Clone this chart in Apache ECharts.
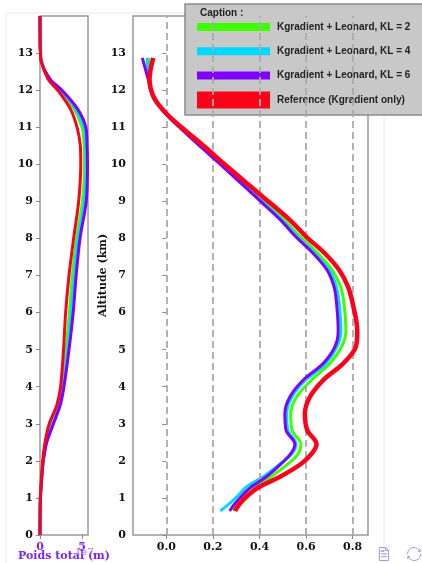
<!DOCTYPE html>
<html>
<head>
<meta charset="utf-8">
<style>
  html, body { margin: 0; padding: 0; background: #fff; }
  #chart { width: 422px; height: 563px; }
</style>
<script src="https://cdn.jsdelivr.net/npm/echarts@6/dist/echarts.min.js"></script>
</head>
<body>
<div id="chart"></div>
<script>
// legend names + colours (KL = 2, 4, 6, reference)
const seriesNames = [
  'Kgradient + Leonard, KL = 2',
  'Kgradient + Leonard, KL = 4',
  'Kgradient + Leonard, KL = 6',
  'Reference (Kgradient only)',
];
const seriesColors = ['#3cff00', '#00d8ff', '#8000ff', '#ff0019'];

// left panel : poids total (x 1e7) against altitude (km)
const altLeft = [0, 0.5, 1, 1.5, 2, 2.5, 3, 3.5, 4, 5, 6, 7, 8, 9, 10, 10.5, 11, 11.5, 12, 12.3, 12.8, 13, 13.2, 14];
const poidsKL2 = [0, 0.01, 0.045, 0.18, 0.36, 0.7, 1.35, 2.2, 2.65, 3.1, 3.5, 3.85, 4.35, 5.05, 5.3, 5.25, 5.0, 4.05, 2.35, 1.08, 0.12, 0.06, 0.02, 0];
const poidsKL4 = [0, 0.01, 0.048, 0.19, 0.38, 0.75, 1.5, 2.3, 2.75, 3.3, 3.75, 4.1, 4.55, 5.3, 5.5, 5.45, 5.25, 4.25, 2.48, 1.15, 0.12, 0.06, 0.02, 0];
const poidsKL6 = [0, 0.01, 0.05, 0.2, 0.4, 0.8, 1.6, 2.4, 2.85, 3.45, 3.95, 4.3, 4.76, 5.5, 5.65, 5.6, 5.45, 4.45, 2.6, 1.2, 0.12, 0.06, 0.02, 0];
const poidsRef = [0, 0.01, 0.04, 0.16, 0.32, 0.6, 1.1, 2.0, 2.45, 2.8, 3.05, 3.45, 4.0, 4.6, 4.85, 4.8, 4.4, 3.6, 2.1, 0.95, 0.12, 0.06, 0.02, 0];

// right panel : profile against altitude (km)
const altRight = [12.87, 12.3, 11.8, 11.37, 11.0, 10.5, 10.0, 9.2, 8.5, 8.05, 7.6, 7.15, 6.7, 6.25, 5.5, 5.08, 4.63, 4.18, 3.73, 3.28, 2.83, 2.45, 2.2, 1.93, 1.57, 1.30, 1.08, 0.85, 0.65];
const profKL2 = [-0.075, -0.074, -0.054, -0.002, 0.062, 0.152, 0.243, 0.385, 0.505, 0.575, 0.65, 0.712, 0.748, 0.763, 0.771, 0.753, 0.703, 0.624, 0.56, 0.534, 0.54, 0.578, 0.567, 0.525, 0.45, 0.388, 0.345, 0.31, 0.288];
const profKL4 = [-0.082, -0.075, -0.055, -0.003, 0.058, 0.145, 0.237, 0.375, 0.495, 0.562, 0.636, 0.698, 0.73, 0.742, 0.75, 0.733, 0.685, 0.598, 0.54, 0.517, 0.522, 0.557, 0.54, 0.49, 0.415, 0.345, 0.31, 0.272, 0.232];
const profKL6 = [-0.103, -0.078, -0.056, -0.004, 0.056, 0.142, 0.232, 0.37, 0.49, 0.555, 0.63, 0.69, 0.72, 0.731, 0.738, 0.724, 0.674, 0.588, 0.531, 0.509, 0.514, 0.552, 0.535, 0.495, 0.43, 0.366, 0.328, 0.295, 0.272];
const profRef = [-0.056, -0.072, -0.053, 0.0, 0.065, 0.16, 0.25, 0.40, 0.53, 0.6, 0.68, 0.742, 0.78, 0.80, 0.82, 0.814, 0.76, 0.674, 0.617, 0.595, 0.605, 0.645, 0.625, 0.581, 0.488, 0.40, 0.352, 0.316, 0.295];

// ticks
const altTicks = [0, 1, 2, 3, 4, 5, 6, 7, 8, 9, 10, 11, 12, 13];
const poidsTicks = [0, 5];
const profTicks = [0, 0.2, 0.4, 0.6, 0.8];

const SERIF = '"DejaVu Serif", serif';
const SANS = '"Liberation Sans", Arial, sans-serif';
const PURPLE_TXT = '#7d22ff';

const pairs = (xs, ys) => xs.map((x, i) => [x, ys[i]]);

const leftVals = [poidsKL2, poidsKL4, poidsKL6, poidsRef];
const rightVals = [profKL2, profKL4, profKL6, profRef];

// thin swatch for KL curves, thick one for the reference (zero-area corners keep the box size)
const THIN_ICON = 'path://M0,0L0.01,0Z M73,17L72.99,17Z M0,4.5L73,4.5L73,12.5L0,12.5Z';
const THICK_ICON = 'path://M0,0L73,0L73,17L0,17Z';

const chart = echarts.init(document.getElementById('chart'), null, { renderer: 'canvas' });

const axisLblY = { color: '#111', fontFamily: SERIF, fontWeight: 'bold', fontSize: 11, margin: 7 };

chart.setOption({
  animation: false,
  backgroundColor: '#fff',
  grid: [
    { left: 40, top: 16, width: 48, height: 519, outerBoundsMode: 'none', show: true, borderColor: '#999', borderWidth: 1.5, backgroundColor: 'transparent' },
    { left: 133, top: 16, width: 235, height: 519, outerBoundsMode: 'none', show: true, borderColor: '#999', borderWidth: 1.5, backgroundColor: 'transparent' },
  ],
  legend: {
    orient: 'vertical',
    left: 185,
    top: 4,
    padding: [14.5, 14, 6.5, 12],
    itemGap: 7.3,
    itemWidth: 73,
    itemHeight: 17,
    backgroundColor: '#c8c8c8',
    borderColor: '#8a8a8a',
    borderWidth: 1.5,
    textStyle: { color: '#222', fontFamily: SANS, fontWeight: 'bold', fontSize: 10, padding: [0, 0, 0, 2] },
    data: seriesNames.map((n, i) => ({ name: n, icon: i === 3 ? THICK_ICON : THIN_ICON })),
  },
  xAxis: [
    {
      gridIndex: 0, type: 'value', min: 0, max: 5.71,
      name: 'Poids total (m)', nameLocation: 'middle', nameGap: 16, nameMoveOverlap: false,
      nameTextStyle: { color: PURPLE_TXT, fontFamily: SERIF, fontWeight: 'bold', fontSize: 11 },
      axisLine: { show: false },
      axisTick: { show: true, length: 4, customValues: poidsTicks, lineStyle: { color: '#888' } },
      axisLabel: { customValues: poidsTicks, color: PURPLE_TXT, fontFamily: SERIF, fontWeight: 'bold', fontSize: 11, margin: 7 },
      splitLine: { show: false },
    },
    {
      gridIndex: 1, type: 'value', min: -0.143, max: 0.866,
      axisLine: { show: false },
      axisTick: { show: true, length: 4, customValues: profTicks, lineStyle: { color: '#888' } },
      axisLabel: { customValues: profTicks, formatter: (v) => v.toFixed(1), color: '#111', fontFamily: SERIF, fontWeight: 'bold', fontSize: 11, margin: 7 },
      splitLine: { show: false },
    },
  ],
  yAxis: [
    {
      gridIndex: 0, type: 'value', min: 0, max: 14,
      axisLine: { show: false },
      axisTick: { show: true, length: 4, customValues: altTicks, lineStyle: { color: '#888' } },
      axisLabel: Object.assign({ customValues: altTicks }, axisLblY),
      splitLine: { show: false },
    },
    {
      gridIndex: 1, type: 'value', min: 0, max: 14,
      name: 'Altitude (km)', nameLocation: 'middle', nameGap: 24, nameMoveOverlap: false,
      nameTextStyle: { color: '#111', fontFamily: SERIF, fontWeight: 'bold', fontSize: 11 },
      axisLine: { show: false },
      axisTick: { show: true, length: 4, customValues: altTicks, lineStyle: { color: '#888' } },
      axisLabel: Object.assign({ customValues: altTicks }, axisLblY),
      splitLine: { show: false },
    },
  ],
  toolbox: {
    show: true, right: -16, bottom: -15, itemSize: 13, itemGap: 14,
    iconStyle: { borderColor: '#9c9ce6' },
    feature: { dataView: { readOnly: true }, restore: {} },
  },
  graphic: [
    { type: 'rect', z: -10, silent: true, shape: { x: 6, y: 13, width: 378, height: 560 }, style: { fill: 'none', stroke: '#e8e8ee', lineWidth: 1 } },
    { type: 'text', left: 200, top: 8, z: 100, style: { text: 'Caption :', fill: '#222', font: 'bold 10px ' + SANS } },
    { type: 'text', left: 75, top: 547, z: 100, style: { text: '1e7', fill: '#a070f4', font: '10px ' + SERIF } },
  ],
  series: [
    // dashed verticals behind the curves
    {
      type: 'line', xAxisIndex: 1, yAxisIndex: 1, data: [], z: 1, silent: true,
      markLine: {
        silent: true, symbol: 'none', label: { show: false }, animation: false,
        lineStyle: { type: [7, 4], color: '#aaa', width: 1.8 },
        data: profTicks.map((v) => ({ xAxis: v })),
      },
    },
    ...seriesNames.map((name, i) => ({
      name, type: 'line', xAxisIndex: 0, yAxisIndex: 0,
      data: pairs(leftVals[i], altLeft),
      smooth: 0.3, symbol: 'none', z: 3 + i,
      lineStyle: { color: seriesColors[i], width: 3 },
      itemStyle: { color: seriesColors[i] },
    })),
    ...seriesNames.map((name, i) => ({
      name, type: 'line', xAxisIndex: 1, yAxisIndex: 1,
      data: pairs(rightVals[i], altRight),
      smooth: 0.35, symbol: 'none', z: 3 + i,
      lineStyle: { color: seriesColors[i], width: i === 3 ? 4.5 : 3 },
      itemStyle: { color: seriesColors[i] },
    })),
  ],
});
</script>
</body>
</html>
